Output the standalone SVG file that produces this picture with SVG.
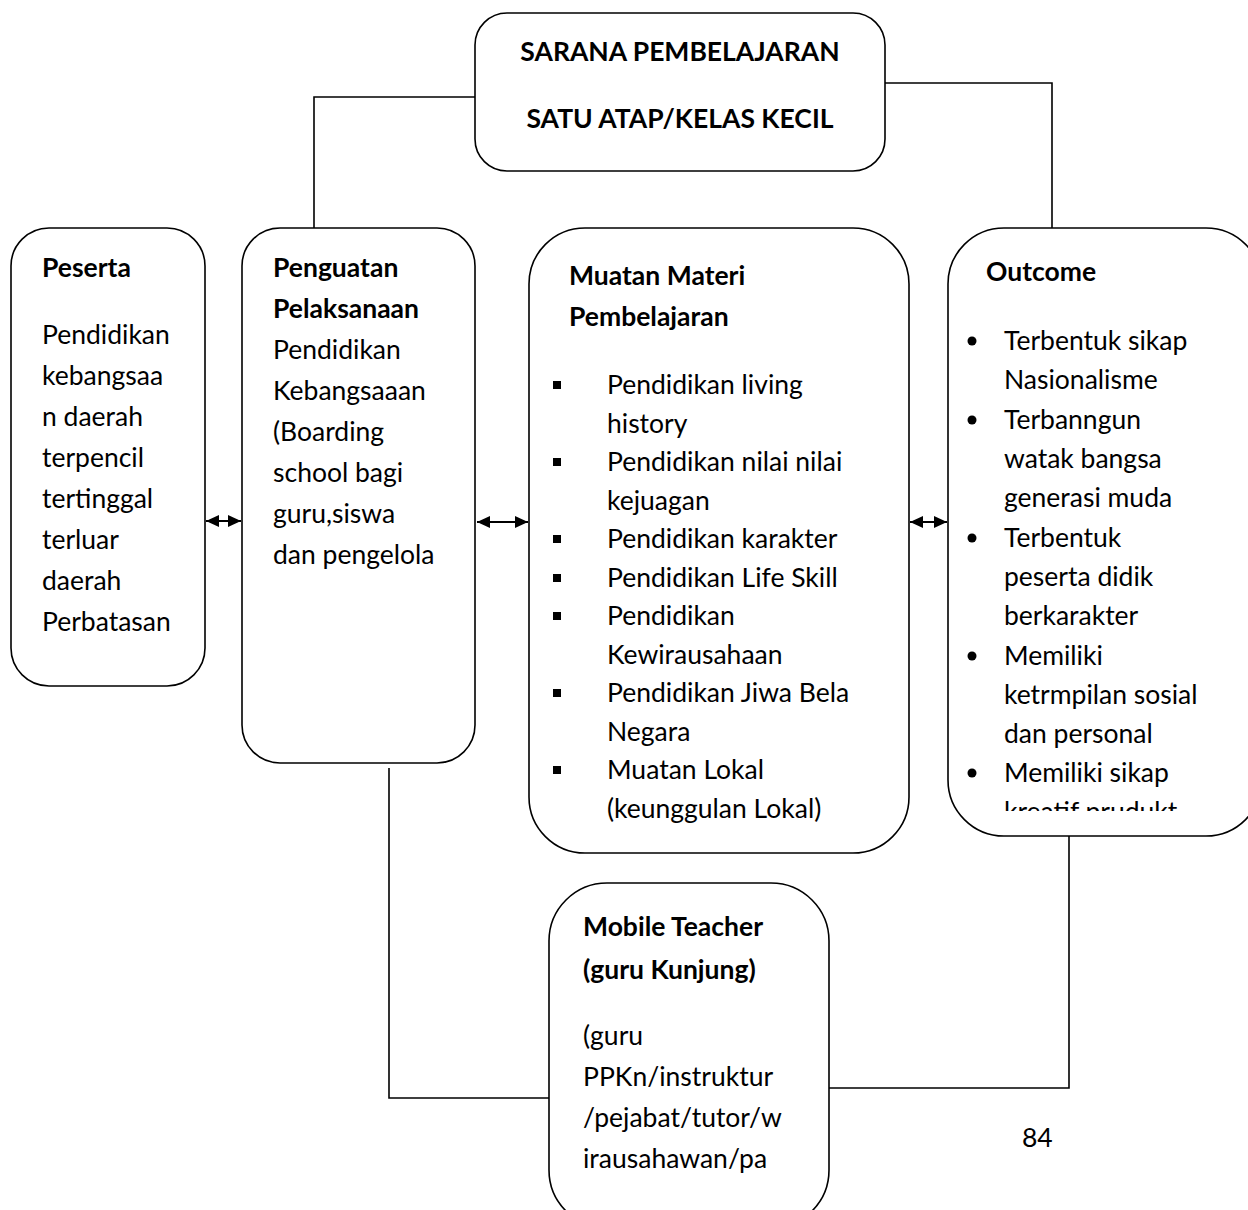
<svg xmlns="http://www.w3.org/2000/svg" width="1248" height="1210" viewBox="0 0 1248 1210">
<style>
.box{fill:#fff;stroke:#000;stroke-width:1.6}
.t{font-family:Lato,"Liberation Sans",sans-serif;font-size:26.5px;fill:#000}
.b{font-weight:bold}
.c{fill:none;stroke:#000;stroke-width:1.6}
.a{fill:none;stroke:#000;stroke-width:2.2}
</style>
<defs>
<marker id="ah" markerUnits="userSpaceOnUse" markerWidth="14" markerHeight="12" refX="13" refY="6" orient="auto-start-reverse">
<path d="M0,0 L13,6 L0,12 z" fill="#000"/>
</marker>
<clipPath id="clipOut"><rect x="940" y="220" width="320" height="591"/></clipPath>
</defs>
<rect width="1248" height="1210" fill="#fff"/>

<g id="connectors">
<polyline class="c" points="475,97 314,97 314,228"/>
<polyline class="c" points="885,83 1052,83 1052,228"/>
<polyline class="c" points="389,768 389,1098 549,1098"/>
<polyline class="c" points="1069,826 1069,1088 829,1088"/>
<line class="a" x1="206" y1="521" x2="241" y2="521" marker-start="url(#ah)" marker-end="url(#ah)"/>
<line class="a" x1="477" y1="522" x2="528" y2="522" marker-start="url(#ah)" marker-end="url(#ah)"/>
<line class="a" x1="910" y1="522" x2="947" y2="522" marker-start="url(#ah)" marker-end="url(#ah)"/>
</g>

<g id="sarana">
<rect class="box" x="475" y="13" width="410" height="158" rx="32"/>
<text class="t b" x="680" y="61" text-anchor="middle">SARANA PEMBELAJARAN</text>
<text class="t b" x="680" y="128" text-anchor="middle">SATU ATAP/KELAS KECIL</text>
</g>

<g id="peserta">
<rect class="box" x="11" y="228" width="194" height="458" rx="38"/>
<text class="t b" x="42" y="277">Peserta</text>
<text class="t" x="42" y="344">Pendidikan</text>
<text class="t" x="42" y="385">kebangsaa</text>
<text class="t" x="42" y="426">n daerah</text>
<text class="t" x="42" y="467">terpencil</text>
<text class="t" x="42" y="508">tertinggal</text>
<text class="t" x="42" y="549">terluar</text>
<text class="t" x="42" y="590">daerah</text>
<text class="t" x="42" y="631">Perbatasan</text>
</g>

<g id="penguatan">
<rect class="box" x="242" y="228" width="233" height="535" rx="38"/>
<text class="t b" x="273" y="277">Penguatan</text>
<text class="t b" x="273" y="318">Pelaksanaan</text>
<text class="t" x="273" y="359">Pendidikan</text>
<text class="t" x="273" y="400">Kebangsaaan</text>
<text class="t" x="273" y="441">(Boarding</text>
<text class="t" x="273" y="482">school bagi</text>
<text class="t" x="273" y="523">guru,siswa</text>
<text class="t" x="273" y="564">dan pengelola</text>
</g>

<g id="muatan">
<rect class="box" x="529" y="228" width="380" height="625" rx="56"/>
<text class="t b" x="569" y="285">Muatan Materi</text>
<text class="t b" x="569" y="326">Pembelajaran</text>
<g fill="#000">
<rect x="553" y="381" width="8" height="8"/>
<rect x="553" y="458" width="8" height="8"/>
<rect x="553" y="535" width="8" height="8"/>
<rect x="553" y="574" width="8" height="8"/>
<rect x="553" y="612" width="8" height="8"/>
<rect x="553" y="689" width="8" height="8"/>
<rect x="553" y="766" width="8" height="8"/>
</g>
<text class="t" x="607" y="394">Pendidikan living</text>
<text class="t" x="607" y="433">history</text>
<text class="t" x="607" y="471">Pendidikan nilai nilai</text>
<text class="t" x="607" y="510">kejuagan</text>
<text class="t" x="607" y="548">Pendidikan karakter</text>
<text class="t" x="607" y="587">Pendidikan Life Skill</text>
<text class="t" x="607" y="625">Pendidikan</text>
<text class="t" x="607" y="664">Kewirausahaan</text>
<text class="t" x="607" y="702">Pendidikan Jiwa Bela</text>
<text class="t" x="607" y="741">Negara</text>
<text class="t" x="607" y="779">Muatan Lokal</text>
<text class="t" x="607" y="818">(keunggulan Lokal)</text>
</g>

<g id="outcome">
<rect class="box" x="948" y="228" width="314" height="608" rx="56"/>
<text class="t b" x="986" y="281">Outcome</text>
<g clip-path="url(#clipOut)">
<g fill="#000">
<circle cx="972" cy="341" r="4.5"/>
<circle cx="972" cy="420" r="4.5"/>
<circle cx="972" cy="538" r="4.5"/>
<circle cx="972" cy="656" r="4.5"/>
<circle cx="972" cy="773" r="4.5"/>
</g>
<text class="t" x="1004" y="350">Terbentuk sikap</text>
<text class="t" x="1004" y="389">Nasionalisme</text>
<text class="t" x="1004" y="429">Terbanngun</text>
<text class="t" x="1004" y="468">watak bangsa</text>
<text class="t" x="1004" y="507">generasi muda</text>
<text class="t" x="1004" y="547">Terbentuk</text>
<text class="t" x="1004" y="586">peserta didik</text>
<text class="t" x="1004" y="625">berkarakter</text>
<text class="t" x="1004" y="665">Memiliki</text>
<text class="t" x="1004" y="704">ketrmpilan sosial</text>
<text class="t" x="1004" y="743">dan personal</text>
<text class="t" x="1004" y="782">Memiliki sikap</text>
<text class="t" x="1004" y="821">kreatif prudukt</text>
</g>
</g>

<g id="mobile">
<rect class="box" x="549" y="883" width="280" height="345" rx="58"/>
<text class="t b" x="583" y="936">Mobile Teacher</text>
<text class="t b" x="583" y="979">(guru Kunjung)</text>
<text class="t" x="583" y="1045">(guru</text>
<text class="t" x="583" y="1086">PPKn/instruktur</text>
<text class="t" x="583" y="1127">/pejabat/tutor/w</text>
<text class="t" x="583" y="1168">irausahawan/pa</text>
</g>

<g id="page">
<text class="t" x="1022" y="1147">84</text>
</g>
</svg>
